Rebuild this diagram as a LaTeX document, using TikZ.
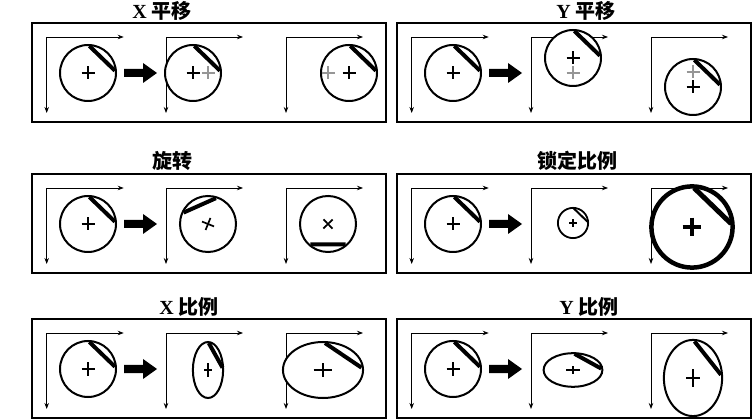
\documentclass[tikz,border=0pt]{standalone}
\usepackage{fontspec}
\setmainfont{Liberation Serif}
\newfontfamily\cjk{Noto Sans CJK SC}
\usetikzlibrary{arrows.meta}

\tikzset{
  panelbox/.style={draw, line width=1.2pt},
  axes/.style={line width=0.8pt, {Stealth[length=6pt,width=4.5pt]}-{Stealth[length=6pt,width=4.5pt]}},
  rim/.style={draw, fill=white, line width=2pt},
  chord/.style={line width=4pt},
  plusmark/.style={line width=1.7pt},
  ghost/.style={line width=1.7pt, color={rgb, 255:red, 150; green, 150; blue, 150}},
  title/.style={inner sep=0pt, font=\bfseries\fontsize{20}{20}\selectfont},
}

% one disc: rim, chord and centre mark
\newcommand{\disc}[1]{%
  \begin{scope}[#1]
    \draw[rim] (0,0) circle (28);
    \draw[chord] (-87:27) -- (-5:27);
    \draw[plusmark] (-6.5,0) -- (6.5,0) (0,-6.5) -- (0,6.5);
  \end{scope}}
\newcommand{\ghostplus}[2]{\draw[ghost] (#1-6.5,#2) -- (#1+6.5,#2) (#1,#2-6.5) -- (#1,#2+6.5);}
% frame, three axes, block arrow and starting disc
\newcommand{\panel}{%
  \draw[panelbox] (0,0) rectangle (354,99);
  \foreach \ax in {14.7,134,254} {\draw[axes] (\ax,90) -- (\ax,14) -- (\ax+77,14);}
  \fill (92,46) -- (111,46) -- (111,40) -- (125,50) -- (111,60) -- (111,54) -- (92,54) -- cycle;
  \disc{shift={(56,50)}}}

\begin{document}
\begin{tikzpicture}[x=1pt,y=1pt,yscale=-1,xscale=1]
\useasboundingbox (0,0) rectangle (752,419);

% X translate
\begin{scope}[shift={(32,23)}]
  \panel
  \disc{shift={(161,50)}}
  \ghostplus{176}{50}
  \disc{shift={(317,50)}}
  \ghostplus{296}{50}
\end{scope}
% Y translate
\begin{scope}[shift={(397,23)}]
  \panel
  \disc{shift={(176,35)}}
  \ghostplus{176}{50}
  \disc{shift={(296,64)}}
  \ghostplus{296}{49}
\end{scope}
% rotate
\begin{scope}[shift={(32,174)}]
  \panel
  \disc{shift={(176,50)}, rotate=-68}
  \disc{shift={(296,50)}, rotate=-224}
\end{scope}
% uniform scale
\begin{scope}[shift={(397,174)}]
  \panel
  \disc{shift={(176,49)}, scale=0.54, rim/.append style={line width=1.8pt}, chord/.append style={line width=2pt}, plusmark/.append style={line width=1.2pt}}
  \disc{shift={(295,53)}, scale=1.45, rim/.append style={line width=4.5pt}, chord/.append style={line width=5pt}, plusmark/.append style={line width=3.5pt}}
\end{scope}
% X scale
\begin{scope}[shift={(32,319)}]
  \panel
  \disc{shift={(176,51)}, xscale=0.54}
  \disc{shift={(291,51)}, xscale=1.43}
\end{scope}
% Y scale
\begin{scope}[shift={(397,319)}]
  \panel
  \disc{shift={(176,51)}, xscale=1.05, yscale=0.6}
  \disc{shift={(296,59)}, xscale=1.04, yscale=1.36}
\end{scope}

% Text Node
\node[title] (tmovex) at (162,11) {X {\cjk 平移}};
\node[title] (tmovey) at (586,11) {Y {\cjk 平移}};
\node[title] (trot) at (172,161) {\cjk 旋转};
\node[title] (tlock) at (577,161) {\cjk 锁定比例};
\node[title] (tsclx) at (189,307) {X {\cjk 比例}};
\node[title] (tscly) at (589,307) {Y {\cjk 比例}};

\end{tikzpicture}
\end{document}
